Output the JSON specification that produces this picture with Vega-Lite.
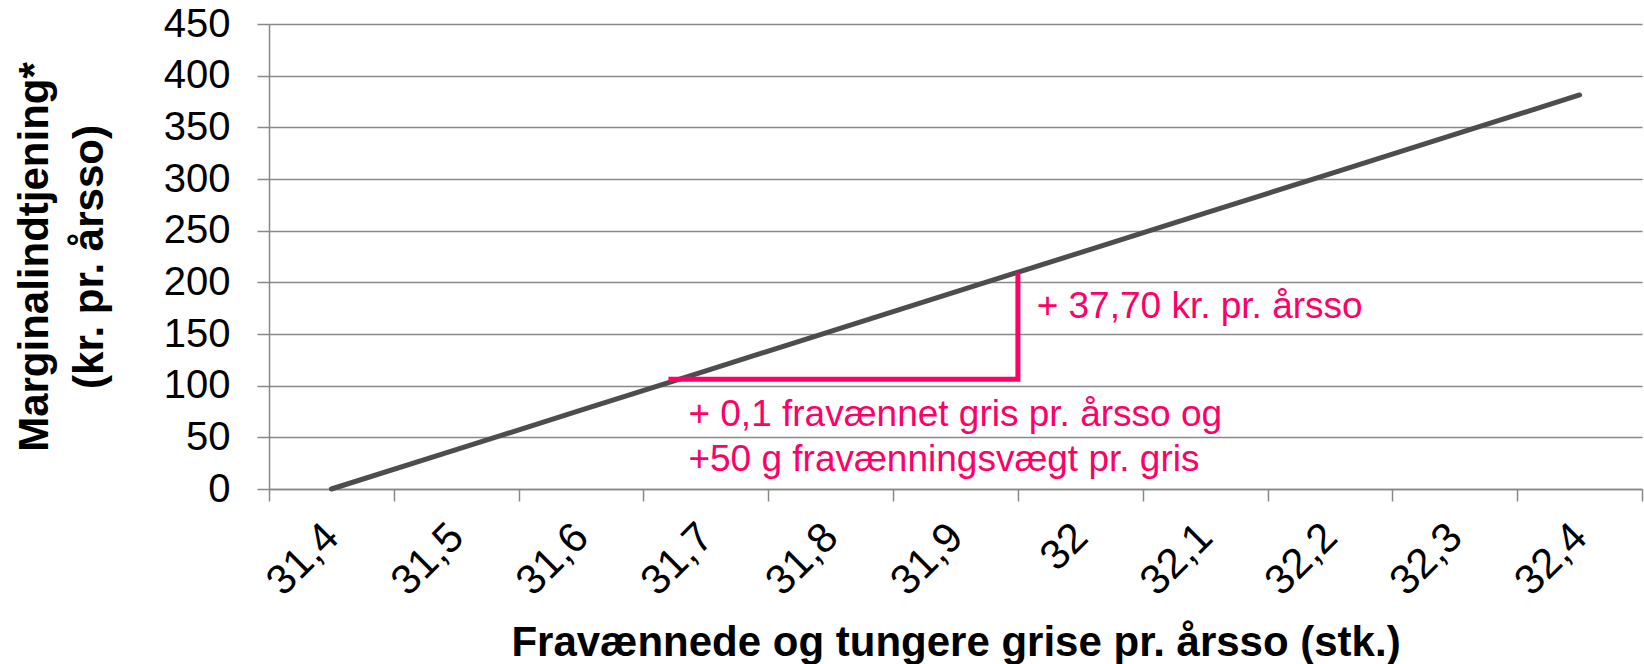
{
  "$schema": "https://vega.github.io/schema/vega-lite/v6.json",
  "width": 1373,
  "height": 465,
  "autosize": "none",
  "padding": {"left": 269, "top": 24, "right": 2, "bottom": 175},
  "background": "white",
  "config": {
    "font": "Liberation Sans",
    "view": {"stroke": null},
    "axis": {
      "gridColor": "#888888",
      "gridWidth": 1.5,
      "gridOpacity": 1,
      "domainColor": "#888888",
      "domainWidth": 1.5,
      "tickColor": "#888888",
      "tickWidth": 1.5,
      "tickSize": 12,
      "labelColor": "#000000",
      "titleColor": "#000000",
      "labelFont": "Liberation Sans",
      "titleFont": "Liberation Sans"
    }
  },
  "datasets": {
    "curve": [
      {"fravaenning": 31.4, "margin": 0.0},
      {"fravaenning": 31.5, "margin": 38.1},
      {"fravaenning": 31.6, "margin": 76.3},
      {"fravaenning": 31.7, "margin": 114.4},
      {"fravaenning": 31.8, "margin": 152.5},
      {"fravaenning": 31.9, "margin": 190.7},
      {"fravaenning": 32.0, "margin": 228.8},
      {"fravaenning": 32.1, "margin": 266.9},
      {"fravaenning": 32.2, "margin": 305.0},
      {"fravaenning": 32.3, "margin": 343.2},
      {"fravaenning": 32.4, "margin": 381.3}
    ],
    "bracket": [
      {"fravaenning": 31.67, "margin": 106.2, "seq": 1},
      {"fravaenning": 31.95, "margin": 106.2, "seq": 2},
      {"fravaenning": 31.95, "margin": 209.5, "seq": 3}
    ],
    "notes": [
      {"fravaenning": 31.965, "margin": 165.8, "label": "+ 37,70 kr. pr. årsso"},
      {"fravaenning": 31.686, "margin": 61.0, "label": "+ 0,1 fravænnet gris pr. årsso og"},
      {"fravaenning": 31.686, "margin": 17.4, "label": "+50 g fravænningsvægt pr. gris"}
    ]
  },
  "layer": [
    {
      "data": {"name": "curve"},
      "mark": {"type": "line", "color": "#4d4d4f", "strokeWidth": 5, "strokeCap": "round", "strokeJoin": "round"},
      "encoding": {
        "x": {
          "field": "fravaenning",
          "type": "quantitative",
          "scale": {"domain": [31.35, 32.45], "nice": false, "zero": false},
          "axis": {
            "values": [31.35, 31.45, 31.55, 31.65, 31.75, 31.85, 31.95, 32.05, 32.15, 32.25, 32.35, 32.45],
            "labelExpr": "datum.value > 32.4 ? '' : replace(format(datum.value + 0.05, '.1~f'), '.', ',')",
            "labelOffset": 62.4,
            "labelAngle": -45,
            "labelAlign": "right",
            "labelBaseline": "middle",
            "labelPadding": 29,
            "labelFontSize": 42,
            "labelFlush": false,
            "labelOverlap": false,
            "labelBound": false,
            "grid": false,
            "title": "Fravænnede og tungere grise pr. årsso (stk.)",
            "titleFontSize": 42,
            "titleFontWeight": "bold",
            "titleX": 686.5,
            "titleY": 166,
            "titleAlign": "center",
            "titleBaseline": "alphabetic"
          }
        },
        "y": {
          "field": "margin",
          "type": "quantitative",
          "scale": {"domain": [0, 450], "nice": false, "zero": true},
          "axis": {
            "values": [0, 50, 100, 150, 200, 250, 300, 350, 400, 450],
            "labelFontSize": 40,
            "labelPadding": 27,
            "labelBaseline": "middle",
            "grid": true,
            "title": ["Marginalindtjening*", "(kr. pr. årsso)"],
            "titleFontSize": 42,
            "titleFontWeight": "bold",
            "titleLineHeight": 55,
            "titleAngle": -90,
            "titleX": -222,
            "titleY": 232.5,
            "titleAlign": "center",
            "titleBaseline": "alphabetic"
          }
        }
      }
    },
    {
      "data": {"name": "bracket"},
      "mark": {"type": "line", "color": "#ff0066", "strokeWidth": 5, "strokeCap": "butt", "strokeJoin": "miter"},
      "encoding": {
        "x": {"field": "fravaenning", "type": "quantitative"},
        "y": {"field": "margin", "type": "quantitative"},
        "order": {"field": "seq", "type": "quantitative"}
      }
    },
    {
      "data": {"name": "notes"},
      "mark": {"type": "text", "color": "#ff0066", "fontSize": 37, "align": "left", "baseline": "alphabetic", "font": "Liberation Sans"},
      "encoding": {
        "x": {"field": "fravaenning", "type": "quantitative"},
        "y": {"field": "margin", "type": "quantitative"},
        "text": {"field": "label", "type": "nominal"}
      }
    }
  ]
}
